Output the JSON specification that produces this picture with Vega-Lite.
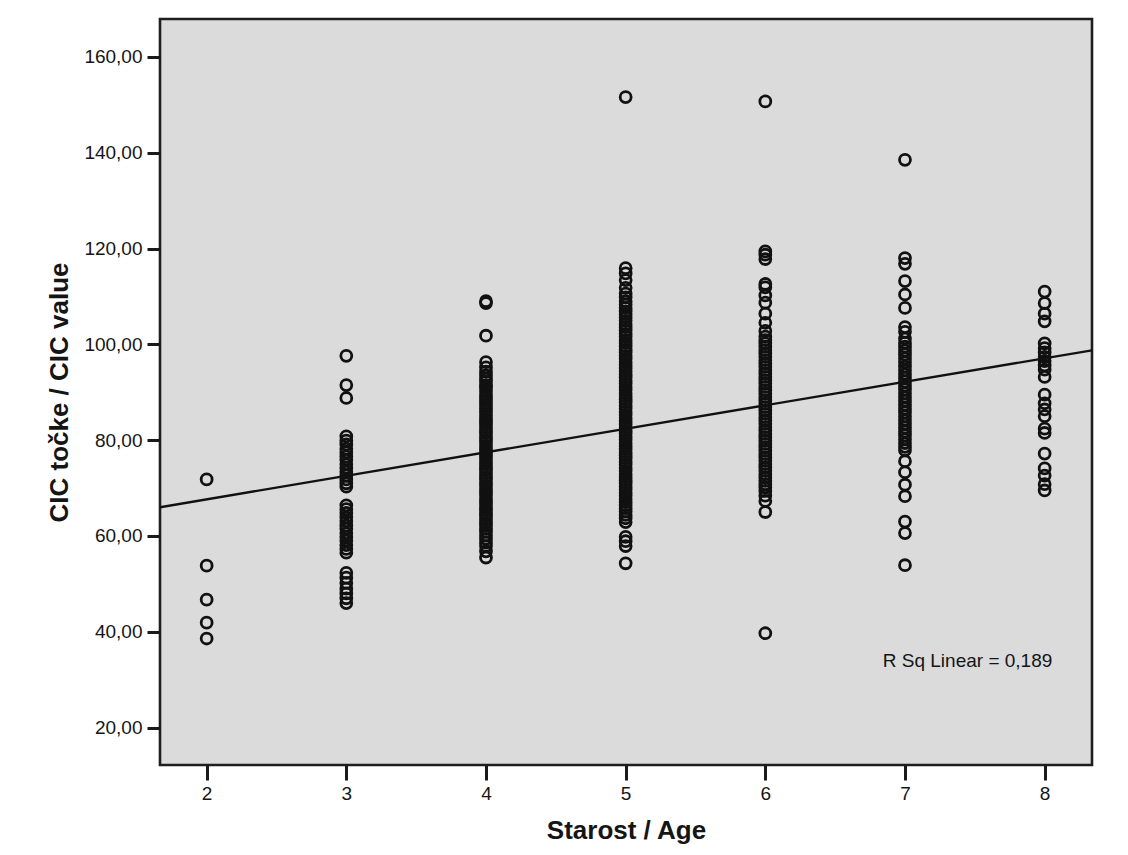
{
  "$schema": "https://vega.github.io/schema/vega-lite/v6.json",
  "width": 932,
  "height": 746,
  "autosize": {"type": "none"},
  "padding": {"left": 160, "top": 19, "right": 36, "bottom": 90},
  "background": "white",
  "config": {
    "view": {"fill": "#dbdbdb", "stroke": "#1e1e1e", "strokeWidth": 2.6},
    "font": "Liberation Sans"
  },
  "datasets": {
    "points": [
      {"age": 2, "cic": 71.8}, {"age": 2, "cic": 53.8}, {"age": 2, "cic": 46.7}, {"age": 2, "cic": 41.9}, {"age": 2, "cic": 38.6},

      {"age": 3, "cic": 97.6}, {"age": 3, "cic": 91.5}, {"age": 3, "cic": 88.8}, {"age": 3, "cic": 80.8}, {"age": 3, "cic": 79.9},
      {"age": 3, "cic": 79.1}, {"age": 3, "cic": 78.2}, {"age": 3, "cic": 77.5}, {"age": 3, "cic": 76.6}, {"age": 3, "cic": 75.9},
      {"age": 3, "cic": 75.0}, {"age": 3, "cic": 74.2}, {"age": 3, "cic": 73.4}, {"age": 3, "cic": 72.6}, {"age": 3, "cic": 71.8},
      {"age": 3, "cic": 71.0}, {"age": 3, "cic": 70.3}, {"age": 3, "cic": 66.4}, {"age": 3, "cic": 65.6}, {"age": 3, "cic": 64.8},
      {"age": 3, "cic": 63.9}, {"age": 3, "cic": 63.1}, {"age": 3, "cic": 62.2}, {"age": 3, "cic": 61.5}, {"age": 3, "cic": 60.6},
      {"age": 3, "cic": 59.8}, {"age": 3, "cic": 59.0}, {"age": 3, "cic": 58.1}, {"age": 3, "cic": 57.3}, {"age": 3, "cic": 56.5},
      {"age": 3, "cic": 52.3}, {"age": 3, "cic": 51.3}, {"age": 3, "cic": 50.2}, {"age": 3, "cic": 49.0}, {"age": 3, "cic": 48.0},
      {"age": 3, "cic": 47.0}, {"age": 3, "cic": 46.0},

      {"age": 4, "cic": 109.0}, {"age": 4, "cic": 108.6}, {"age": 4, "cic": 101.8}, {"age": 4, "cic": 96.3}, {"age": 4, "cic": 95.2},
      {"age": 4, "cic": 94.3}, {"age": 4, "cic": 93.5}, {"age": 4, "cic": 92.8}, {"age": 4, "cic": 92.2}, {"age": 4, "cic": 91.5},
      {"age": 4, "cic": 91.0}, {"age": 4, "cic": 90.3}, {"age": 4, "cic": 89.6}, {"age": 4, "cic": 89.0}, {"age": 4, "cic": 88.4},
      {"age": 4, "cic": 87.7}, {"age": 4, "cic": 87.1}, {"age": 4, "cic": 86.5}, {"age": 4, "cic": 85.9}, {"age": 4, "cic": 85.2},
      {"age": 4, "cic": 84.5}, {"age": 4, "cic": 83.9}, {"age": 4, "cic": 83.3}, {"age": 4, "cic": 82.7}, {"age": 4, "cic": 82.0},
      {"age": 4, "cic": 81.4}, {"age": 4, "cic": 80.7}, {"age": 4, "cic": 80.1}, {"age": 4, "cic": 79.5}, {"age": 4, "cic": 78.8},
      {"age": 4, "cic": 78.1}, {"age": 4, "cic": 77.5}, {"age": 4, "cic": 76.9}, {"age": 4, "cic": 76.3}, {"age": 4, "cic": 75.6},
      {"age": 4, "cic": 75.0}, {"age": 4, "cic": 74.3}, {"age": 4, "cic": 73.7}, {"age": 4, "cic": 73.1}, {"age": 4, "cic": 72.4},
      {"age": 4, "cic": 71.8}, {"age": 4, "cic": 71.1}, {"age": 4, "cic": 70.5}, {"age": 4, "cic": 69.8}, {"age": 4, "cic": 69.2},
      {"age": 4, "cic": 68.6}, {"age": 4, "cic": 67.9}, {"age": 4, "cic": 67.3}, {"age": 4, "cic": 66.7}, {"age": 4, "cic": 66.0},
      {"age": 4, "cic": 65.4}, {"age": 4, "cic": 64.7}, {"age": 4, "cic": 64.1}, {"age": 4, "cic": 63.5}, {"age": 4, "cic": 62.8},
      {"age": 4, "cic": 62.2}, {"age": 4, "cic": 61.5}, {"age": 4, "cic": 60.9}, {"age": 4, "cic": 60.1}, {"age": 4, "cic": 59.4},
      {"age": 4, "cic": 58.6}, {"age": 4, "cic": 57.9}, {"age": 4, "cic": 56.8}, {"age": 4, "cic": 55.5},

      {"age": 5, "cic": 151.6}, {"age": 5, "cic": 115.9}, {"age": 5, "cic": 114.8}, {"age": 5, "cic": 113.4}, {"age": 5, "cic": 111.8},
      {"age": 5, "cic": 110.6}, {"age": 5, "cic": 109.8}, {"age": 5, "cic": 109.0}, {"age": 5, "cic": 108.3}, {"age": 5, "cic": 107.6},
      {"age": 5, "cic": 106.9}, {"age": 5, "cic": 106.3}, {"age": 5, "cic": 105.6}, {"age": 5, "cic": 104.9}, {"age": 5, "cic": 104.2},
      {"age": 5, "cic": 103.6}, {"age": 5, "cic": 102.9}, {"age": 5, "cic": 102.2}, {"age": 5, "cic": 101.6}, {"age": 5, "cic": 100.9},
      {"age": 5, "cic": 100.3}, {"age": 5, "cic": 99.6}, {"age": 5, "cic": 98.9}, {"age": 5, "cic": 98.3}, {"age": 5, "cic": 97.6},
      {"age": 5, "cic": 97.0}, {"age": 5, "cic": 96.3}, {"age": 5, "cic": 95.7}, {"age": 5, "cic": 95.0}, {"age": 5, "cic": 94.4},
      {"age": 5, "cic": 93.7}, {"age": 5, "cic": 93.1}, {"age": 5, "cic": 92.4}, {"age": 5, "cic": 91.8}, {"age": 5, "cic": 91.1},
      {"age": 5, "cic": 90.5}, {"age": 5, "cic": 89.8}, {"age": 5, "cic": 89.2}, {"age": 5, "cic": 88.5}, {"age": 5, "cic": 87.9},
      {"age": 5, "cic": 87.2}, {"age": 5, "cic": 86.6}, {"age": 5, "cic": 85.9}, {"age": 5, "cic": 85.3}, {"age": 5, "cic": 84.6},
      {"age": 5, "cic": 84.0}, {"age": 5, "cic": 83.3}, {"age": 5, "cic": 82.7}, {"age": 5, "cic": 82.0}, {"age": 5, "cic": 81.4},
      {"age": 5, "cic": 80.7}, {"age": 5, "cic": 80.1}, {"age": 5, "cic": 79.4}, {"age": 5, "cic": 78.8}, {"age": 5, "cic": 78.1},
      {"age": 5, "cic": 77.5}, {"age": 5, "cic": 76.8}, {"age": 5, "cic": 76.2}, {"age": 5, "cic": 75.5}, {"age": 5, "cic": 74.9},
      {"age": 5, "cic": 74.2}, {"age": 5, "cic": 73.6}, {"age": 5, "cic": 72.9}, {"age": 5, "cic": 72.3}, {"age": 5, "cic": 71.6},
      {"age": 5, "cic": 71.0}, {"age": 5, "cic": 70.3}, {"age": 5, "cic": 69.7}, {"age": 5, "cic": 69.0}, {"age": 5, "cic": 68.4},
      {"age": 5, "cic": 67.7}, {"age": 5, "cic": 67.1}, {"age": 5, "cic": 66.4}, {"age": 5, "cic": 65.8}, {"age": 5, "cic": 65.1},
      {"age": 5, "cic": 64.4}, {"age": 5, "cic": 63.7}, {"age": 5, "cic": 62.9}, {"age": 5, "cic": 59.8}, {"age": 5, "cic": 58.9},
      {"age": 5, "cic": 57.9}, {"age": 5, "cic": 54.3},

      {"age": 6, "cic": 150.7}, {"age": 6, "cic": 119.4}, {"age": 6, "cic": 118.7}, {"age": 6, "cic": 117.8}, {"age": 6, "cic": 112.6},
      {"age": 6, "cic": 111.9}, {"age": 6, "cic": 110.2}, {"age": 6, "cic": 108.7}, {"age": 6, "cic": 106.4}, {"age": 6, "cic": 104.5},
      {"age": 6, "cic": 102.8}, {"age": 6, "cic": 101.6}, {"age": 6, "cic": 100.9}, {"age": 6, "cic": 100.2}, {"age": 6, "cic": 99.5},
      {"age": 6, "cic": 98.8}, {"age": 6, "cic": 98.1}, {"age": 6, "cic": 97.4}, {"age": 6, "cic": 96.7}, {"age": 6, "cic": 96.0},
      {"age": 6, "cic": 95.3}, {"age": 6, "cic": 94.6}, {"age": 6, "cic": 93.9}, {"age": 6, "cic": 93.2}, {"age": 6, "cic": 92.5},
      {"age": 6, "cic": 91.8}, {"age": 6, "cic": 91.1}, {"age": 6, "cic": 90.4}, {"age": 6, "cic": 89.7}, {"age": 6, "cic": 89.0},
      {"age": 6, "cic": 88.3}, {"age": 6, "cic": 87.6}, {"age": 6, "cic": 86.9}, {"age": 6, "cic": 86.2}, {"age": 6, "cic": 85.5},
      {"age": 6, "cic": 84.8}, {"age": 6, "cic": 84.1}, {"age": 6, "cic": 83.4}, {"age": 6, "cic": 82.7}, {"age": 6, "cic": 82.0},
      {"age": 6, "cic": 81.3}, {"age": 6, "cic": 80.6}, {"age": 6, "cic": 79.9}, {"age": 6, "cic": 79.2}, {"age": 6, "cic": 78.5},
      {"age": 6, "cic": 77.8}, {"age": 6, "cic": 77.1}, {"age": 6, "cic": 76.4}, {"age": 6, "cic": 75.7}, {"age": 6, "cic": 75.0},
      {"age": 6, "cic": 74.3}, {"age": 6, "cic": 73.6}, {"age": 6, "cic": 72.9}, {"age": 6, "cic": 72.2}, {"age": 6, "cic": 71.5},
      {"age": 6, "cic": 70.8}, {"age": 6, "cic": 70.1}, {"age": 6, "cic": 69.4}, {"age": 6, "cic": 68.4}, {"age": 6, "cic": 67.3},
      {"age": 6, "cic": 65.0}, {"age": 6, "cic": 39.7},

      {"age": 7, "cic": 138.5}, {"age": 7, "cic": 118.0}, {"age": 7, "cic": 116.8}, {"age": 7, "cic": 113.2}, {"age": 7, "cic": 110.4},
      {"age": 7, "cic": 107.6}, {"age": 7, "cic": 103.6}, {"age": 7, "cic": 102.6}, {"age": 7, "cic": 101.2}, {"age": 7, "cic": 100.3},
      {"age": 7, "cic": 99.5}, {"age": 7, "cic": 98.7}, {"age": 7, "cic": 97.9}, {"age": 7, "cic": 97.1}, {"age": 7, "cic": 96.3},
      {"age": 7, "cic": 95.4}, {"age": 7, "cic": 94.6}, {"age": 7, "cic": 93.8}, {"age": 7, "cic": 93.0}, {"age": 7, "cic": 92.2},
      {"age": 7, "cic": 91.4}, {"age": 7, "cic": 90.6}, {"age": 7, "cic": 89.8}, {"age": 7, "cic": 89.0}, {"age": 7, "cic": 88.2},
      {"age": 7, "cic": 87.4}, {"age": 7, "cic": 86.6}, {"age": 7, "cic": 85.8}, {"age": 7, "cic": 85.0}, {"age": 7, "cic": 84.2},
      {"age": 7, "cic": 83.4}, {"age": 7, "cic": 82.6}, {"age": 7, "cic": 81.8}, {"age": 7, "cic": 81.0}, {"age": 7, "cic": 80.2},
      {"age": 7, "cic": 79.4}, {"age": 7, "cic": 78.6}, {"age": 7, "cic": 77.9}, {"age": 7, "cic": 75.6}, {"age": 7, "cic": 73.3},
      {"age": 7, "cic": 70.7}, {"age": 7, "cic": 68.3}, {"age": 7, "cic": 63.0}, {"age": 7, "cic": 60.6}, {"age": 7, "cic": 53.9},

      {"age": 8, "cic": 111.0}, {"age": 8, "cic": 108.6}, {"age": 8, "cic": 106.4}, {"age": 8, "cic": 104.8}, {"age": 8, "cic": 100.2},
      {"age": 8, "cic": 99.2}, {"age": 8, "cic": 98.3}, {"age": 8, "cic": 97.4}, {"age": 8, "cic": 96.5}, {"age": 8, "cic": 95.6},
      {"age": 8, "cic": 94.7}, {"age": 8, "cic": 93.2}, {"age": 8, "cic": 89.5}, {"age": 8, "cic": 87.7}, {"age": 8, "cic": 86.4},
      {"age": 8, "cic": 85.0}, {"age": 8, "cic": 82.4}, {"age": 8, "cic": 81.5}, {"age": 8, "cic": 77.2}, {"age": 8, "cic": 74.1},
      {"age": 8, "cic": 72.6}, {"age": 8, "cic": 70.8}, {"age": 8, "cic": 69.5}
    ],
    "fit": [
      {"age": 1.666, "cic": 66.0},
      {"age": 8.339, "cic": 98.75}
    ],
    "note": [
      {"age": 8.055, "cic": 33.9, "label": "R Sq Linear = 0,189"}
    ]
  },
  "layer": [
    {
      "data": {"name": "points"},
      "mark": {"type": "point", "shape": "circle", "filled": false, "stroke": "#111111", "strokeWidth": 2.8, "size": 120, "opacity": 1},
      "encoding": {
        "x": {
          "field": "age", "type": "quantitative",
          "scale": {"domain": [1.666, 8.339], "nice": false, "zero": false},
          "axis": {
            "title": "Starost / Age", "values": [2, 3, 4, 5, 6, 7, 8], "format": "d",
            "grid": false, "domain": false,
            "tickSize": 15, "tickWidth": 3, "tickColor": "#1a1a1a",
            "labelFont": "Liberation Sans", "labelFontSize": 19, "labelColor": "#151515", "labelPadding": 4,
            "titleFont": "Liberation Sans", "titleFontSize": 26, "titleFontWeight": "bold", "titleColor": "#151515", "titlePadding": 14
          }
        },
        "y": {
          "field": "cic", "type": "quantitative",
          "scale": {"domain": [12.2, 167.9], "nice": false, "zero": false},
          "axis": {
            "title": "CIC točke / CIC value", "values": [20, 40, 60, 80, 100, 120, 140, 160],
            "labelExpr": "replace(format(datum.value, '.2f'), '.', ',')",
            "grid": false, "domain": false,
            "tickSize": 13, "tickWidth": 3, "tickColor": "#1a1a1a",
            "labelFont": "Liberation Sans", "labelFontSize": 19, "labelColor": "#151515", "labelPadding": 5,
            "titleFont": "Liberation Sans", "titleFontSize": 26, "titleFontWeight": "bold", "titleColor": "#151515", "titlePadding": 11
          }
        }
      }
    },
    {
      "data": {"name": "fit"},
      "mark": {"type": "line", "color": "#111111", "strokeWidth": 2.4, "clip": true},
      "encoding": {
        "x": {"field": "age", "type": "quantitative"},
        "y": {"field": "cic", "type": "quantitative"}
      }
    },
    {
      "data": {"name": "note"},
      "mark": {"type": "text", "align": "right", "baseline": "middle", "fontSize": 19, "font": "Liberation Sans", "color": "#151515"},
      "encoding": {
        "x": {"field": "age", "type": "quantitative"},
        "y": {"field": "cic", "type": "quantitative"},
        "text": {"field": "label"}
      }
    }
  ]
}
